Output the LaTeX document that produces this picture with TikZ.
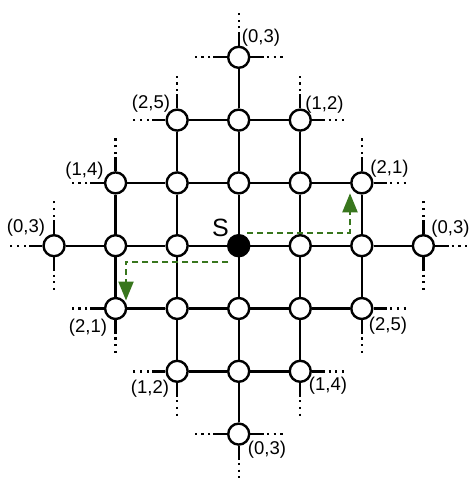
\documentclass[tikz,border=0pt]{standalone}
\usepackage{fontspec}
\setmainfont{Liberation Sans}
\usetikzlibrary{calc,arrows.meta}
\definecolor{pathgreen}{RGB}{56,118,29}
\begin{document}
\begin{tikzpicture}[x=1pt,y=-1pt,
  vtx/.style={circle,draw,line width=2.4pt,fill=white,minimum size=21pt,inner sep=0pt},
  src/.style={vtx,fill=black},
  edge/.style={line width=2.4pt},
  stubdots/.style={line width=2.4pt,dash pattern=on 2.2pt off 4.5pt},
  walk/.style={draw=pathgreen,line width=2.2pt,dash pattern=on 6pt off 4pt,-{Triangle[length=19pt,width=15pt,fill=pathgreen]}},
  lbl/.style={font=\fontsize{18.5pt}{22pt}\selectfont,inner sep=0pt},
  srclbl/.style={font=\fontsize{25pt}{30pt}\selectfont,inner sep=0pt}]
\useasboundingbox (0,0) rectangle (470,478);
\def\cx{238.7}\def\cy{245.7}\def\gx{61.55}\def\gy{62.8}
% vertices
\foreach \a in {0,...,6}{
  \pgfmathtruncatemacro\m{3-abs(\a-3)}
  \pgfmathtruncatemacro\lo{3-\m}
  \pgfmathtruncatemacro\hi{3+\m}
  \foreach \b in {\lo,...,\hi}{
    \pgfmathtruncatemacro\isS{and(\a==3,\b==3)}
    \ifnum\isS=1
      \node[src] (n\a\b) at ({\cx+(\a-3)*\gx},{\cy-(\b-3)*\gy}) {};
    \else
      \node[vtx] (n\a\b) at ({\cx+(\a-3)*\gx},{\cy-(\b-3)*\gy}) {};
    \fi
  }
}
% horizontal edges
\foreach \b in {1,...,5}{
  \pgfmathtruncatemacro\m{3-abs(\b-3)}
  \pgfmathtruncatemacro\lo{3-\m}
  \pgfmathtruncatemacro\hi{2+\m}
  \foreach \a in {\lo,...,\hi}{
    \pgfmathtruncatemacro\an{\a+1}
    \draw[edge] (n\a\b) -- (n\an\b);
  }
}
% vertical edges
\foreach \a in {1,...,5}{
  \pgfmathtruncatemacro\m{3-abs(\a-3)}
  \pgfmathtruncatemacro\lo{3-\m}
  \pgfmathtruncatemacro\hi{2+\m}
  \foreach \b in {\lo,...,\hi}{
    \pgfmathtruncatemacro\bn{\b+1}
    \draw[edge] (n\a\b) -- (n\a\bn);
  }
}
% stubs to the rest of the lattice
\foreach \a/\b/\ux/\uy in {3/6/-1/0,3/6/1/0,3/6/0/1, 4/5/1/0,4/5/0/1, 5/4/1/0,5/4/0/1,
    6/3/1/0,6/3/0/1,6/3/0/-1, 5/2/1/0,5/2/0/-1, 4/1/1/0,4/1/0/-1,
    3/0/-1/0,3/0/1/0,3/0/0/-1, 2/1/-1/0,2/1/0/-1, 1/2/-1/0,1/2/0/-1,
    0/3/-1/0,0/3/0/1,0/3/0/-1, 1/4/-1/0,1/4/0/1, 2/5/-1/0,2/5/0/1}{
  \draw[edge] (n\a\b) -- ($(n\a\b)+({0.41*\gx*\ux},{-0.41*\gy*(\uy)})$);
  \draw[stubdots] ($(n\a\b)+({0.46*\gx*\ux},{-0.46*\gy*(\uy)})$) -- ($(n\a\b)+({0.74*\gx*\ux},{-0.74*\gy*(\uy)})$);
}
% walks
\draw[walk] ($(n33)+(8.6,-13)$) -| ($(n54)+(-11.8,10.4)$);
\draw[walk] ($(n33)+(-10.4,16)$) -| ($(n12)+(10.4,-8)$);
% labels
\node[srclbl] (ls) at (220.5,228.3) {S};
\node[lbl] (l36) at (261,38) {(0,3)};
\node[lbl] (l45) at (324.5,105) {(1,2)};
\node[lbl] (l25) at (151,104) {(2,5)};
\node[lbl] (l14) at (84.5,170.5) {(1,4)};
\node[lbl] (l54) at (389.5,169) {(2,1)};
\node[lbl] (l03) at (26,228) {(0,3)};
\node[lbl] (l63) at (450.5,229) {(0,3)};
\node[lbl] (l12) at (88,327.5) {(2,1)};
\node[lbl] (l21) at (150,389) {(1,2)};
\node[lbl] (l30) at (267,450) {(0,3)};
\node[lbl] (l41) at (328,386) {(1,4)};
\node[lbl] (l52) at (388,326) {(2,5)};
\end{tikzpicture}
\end{document}
